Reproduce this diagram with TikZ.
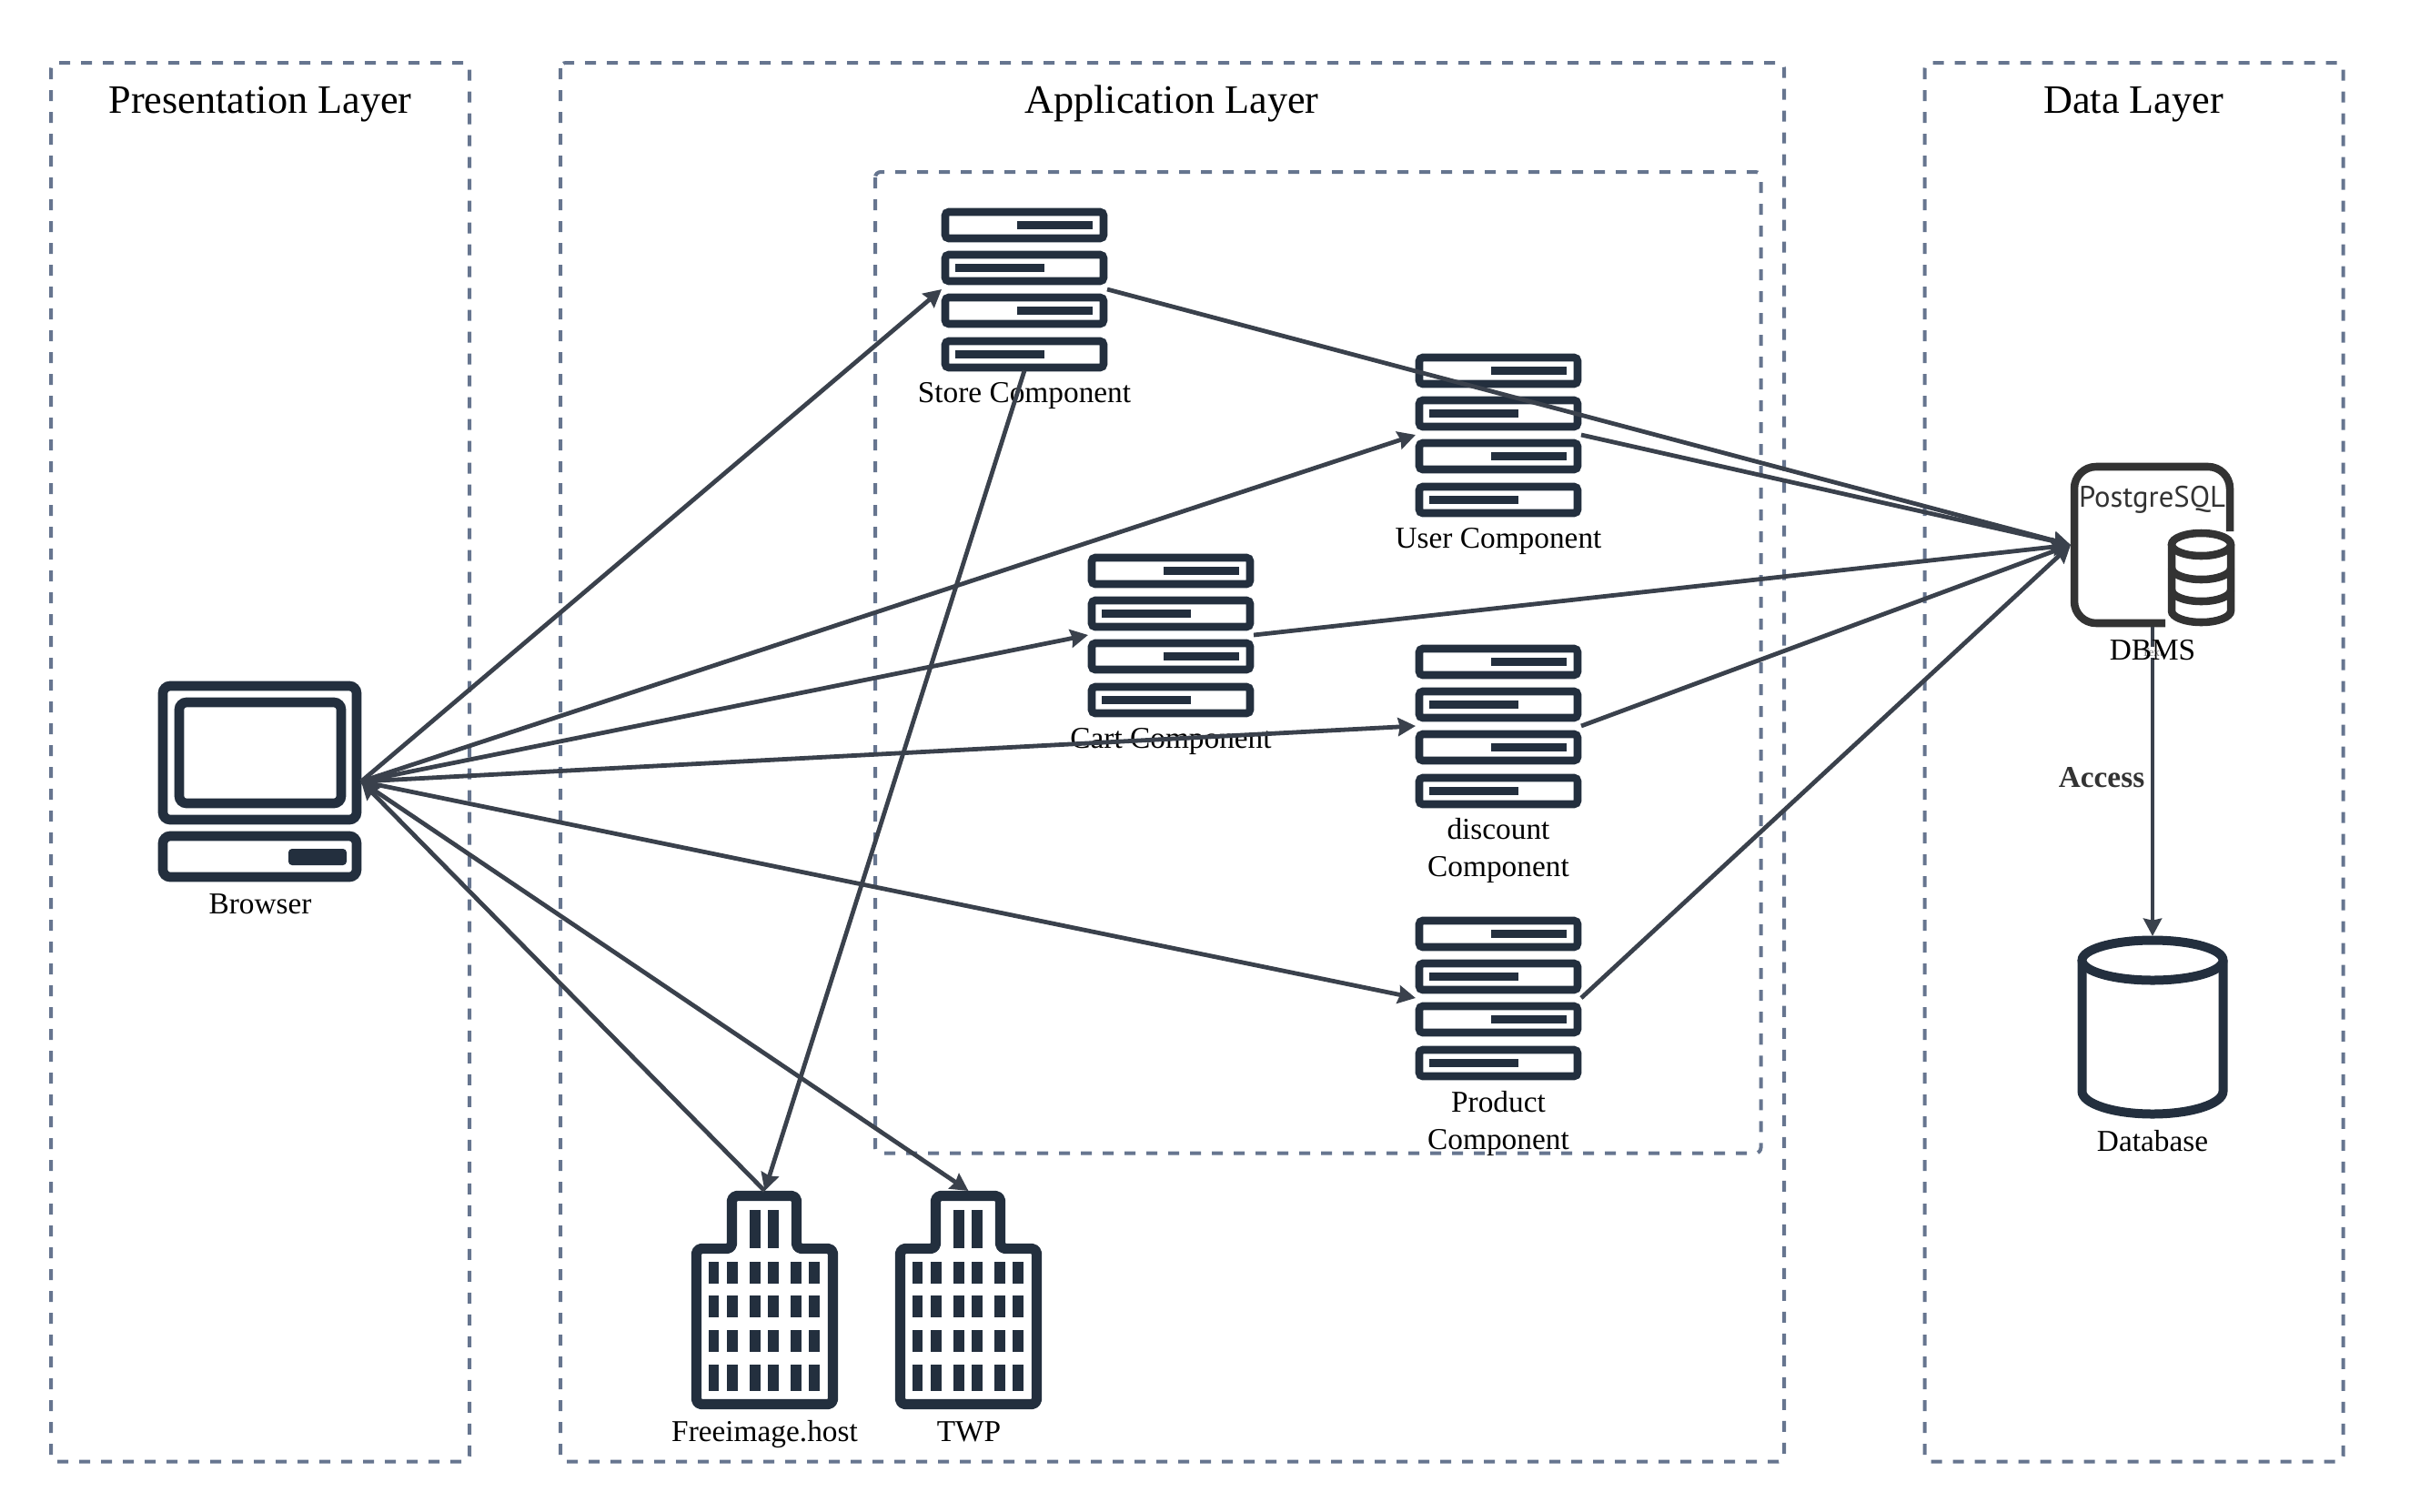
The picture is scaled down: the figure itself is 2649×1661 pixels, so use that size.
\documentclass[tikz,border=0pt]{standalone}
\usepackage{fontspec}
\setmainfont{Liberation Serif}
\newfontfamily\pgfont{PT Sans}
\usetikzlibrary{arrows.meta}
\definecolor{iconc}{HTML}{232F3E}
\definecolor{linec}{HTML}{3A414C}
\definecolor{dashc}{HTML}{66758F}
\definecolor{dbc}{HTML}{333333}
\tikzset{
  x=0.75pt,y=-0.75pt,
  layerbox/.style={draw=dashc,line width=3pt,dash pattern=on 9pt off 9pt,rounded corners=4.5pt},
  title/.style={font=\fontsize{33.2pt}{38pt}\selectfont,anchor=base,inner sep=0pt},
  label/.style={font=\fontsize{25pt}{30.75pt}\selectfont,anchor=base,inner sep=0pt,align=center,text=black},
  srv/.style={draw=iconc,line width=6.5pt,rounded corners=3pt},
  bar/.style={fill=iconc},
  conn/.style={draw=linec,line width=3.6pt,-{Stealth[length=14.5pt,width=15pt,inset=1.5pt]}},
  heavy/.style={draw=iconc,line width=8pt,rounded corners=6pt},
  tower/.style={draw=iconc,line width=8.5pt,rounded corners=4pt,line join=round},
  cyl/.style={draw=iconc,line width=7.5pt},
  pgdb/.style={draw=dbc,line width=6.4pt},
}
\newcommand{\servericon}[3]{%
  \node[inner sep=0pt,outer sep=0pt,minimum width=136.5pt,minimum height=134pt] (#3) at (#1+91,#2+89) {};
  \begin{scope}[shift={(#1,#2)}]
    \draw[srv] (4,4) rectangle (178,33);
    \draw[srv] (4,51) rectangle (178,80);
    \draw[srv] (4,98) rectangle (178,127);
    \draw[srv] (4,146) rectangle (178,175);
    \fill[bar] (83,14) rectangle (166,23);
    \fill[bar] (15,61) rectangle (113,70);
    \fill[bar] (83,108) rectangle (166,117);
    \fill[bar] (15,156) rectangle (113,165);
  \end{scope}}
\newcommand{\buildingicon}[3]{%
  \node[inner sep=0pt,outer sep=0pt,minimum width=120.75pt,minimum height=180pt] (#3) at (#1+80.5,#2+120) {};
  \begin{scope}[shift={(#1,#2)}]
    \draw[tower] (5.5,234.5) -- (5.5,63.5) -- (44.5,63.5) -- (44.5,5.5) -- (115.5,5.5) -- (115.5,63.5) -- (155.5,63.5) -- (155.5,234.5) -- cycle;
    \foreach \cx in {64.3,84.3} \fill[bar] (\cx,21) rectangle +(11.7,42.3);
    \foreach \cx in {18.7,39,64.3,84.3,109.3,129.3} {
      \fill[bar] (\cx,77.7) rectangle +(11.7,24);
      \fill[bar] (\cx,115.3) rectangle +(11.7,24);
      \fill[bar] (\cx,153.3) rectangle +(11.7,24);
      \fill[bar] (\cx,191.3) rectangle +(11.7,29);
    }
  \end{scope}}
\begin{document}
\begin{tikzpicture}
\useasboundingbox (0,0) rectangle (2649,1661);
% layer frames
\draw[layerbox] (56,69) rectangle (516,1606.5);
\draw[layerbox] (616,69) rectangle (1961,1606.5);
\draw[layerbox] (2115.5,69) rectangle (2575.5,1606.5);
\draw[layerbox] (962,189) rectangle (1935.5,1267.5);
\node[title] (t1) at (286,124.5) {Presentation Layer};
\node[title] (t2) at (1288,124.5) {Application Layer};
\node[title] (t3) at (2345,124.5) {Data Layer};
% browser
\node[inner sep=0pt,outer sep=0pt,minimum width=167.25pt,minimum height=165pt] (browser) at (285.5,859) {};
\draw[heavy] (179,754) rectangle (392,901);
\draw[heavy] (197,772) rectangle (375,883);
\draw[heavy] (179,919) rectangle (392,964);
\fill[iconc,rounded corners=3pt] (317,933) rectangle (381,951);
\node[label] (lbrowser) at (286,1004.5) {Browser};
% components
\servericon{1035}{229}{store}
\servericon{1556}{389}{user}
\servericon{1196}{609}{cart}
\servericon{1556}{709}{discount}
\servericon{1556}{1008}{product}
\node[label] (lstore) at (1126,442.5) {Store Component};
\node[label] (luser) at (1647,602.5) {User Component};
\node[label] (lcart) at (1287,822.5) {Cart Component};
\node[label] (ldiscount) at (1647,963) {discount\\Component};
\node[label] (lproduct) at (1647,1263) {Product\\Component};
% buildings
\buildingicon{760}{1309}{free}
\buildingicon{984}{1309}{twp}
\node[label] (lfree) at (840.5,1584.5) {Freeimage.host};
\node[label] (ltwp) at (1065,1584.5) {TWP};
% DBMS
\node[inner sep=0pt,outer sep=0pt,minimum width=135pt,minimum height=135pt] (dbms) at (2366,599) {};
\draw[pgdb,rounded corners=18pt] (2451,584) -- (2451,513) -- (2280,513) -- (2280,685) -- (2380,685);
\node[font=\pgfont\fontsize{24.5pt}{30pt}\selectfont,text=dbc,anchor=base,inner sep=0pt] (pg) at (2365.5,557) {PostgreSQL};
\draw[pgdb] (2387,598.5) -- (2387,671.5) arc[start angle=180,end angle=0,x radius=32.5,y radius=12.5] -- (2452,598.5);
\draw[pgdb] (2419.5,598.5) ellipse[x radius=32.5,y radius=12.5];
\draw[pgdb] (2387,624.5) arc[start angle=180,end angle=0,x radius=32.5,y radius=12.5];
\draw[pgdb] (2387,648.5) arc[start angle=180,end angle=0,x radius=32.5,y radius=12.5];
% database
\node[inner sep=0pt,outer sep=0pt,minimum width=123pt,minimum height=150pt] (database) at (2366,1129) {};
\draw[cyl] (2288.5,1055.5) -- (2288.5,1199.5) arc[start angle=180,end angle=0,x radius=77.5,y radius=25] -- (2443.5,1055.5);
\draw[cyl] (2366,1055.5) ellipse[x radius=77.5,y radius=22];
\node[label] (ldatabase) at (2366,1265) {Database};
% connectors
\draw[conn] (browser.east) -- (store.west);
\draw[conn] (browser.east) -- (user.west);
\draw[conn] (browser.east) -- (cart.west);
\draw[conn] (browser.east) -- (discount.west);
\draw[conn] (browser.east) -- (product.west);
\draw[conn] (free.north) -- (browser.east);
\draw[conn] (browser.east) -- (twp.north);
\draw[conn] (store.south) -- (free.north);
\draw[conn] (store.east) -- (dbms.west);
\draw[conn] (user.east) -- (dbms.west);
\draw[conn] (cart.east) -- (dbms.west);
\draw[conn] (discount.east) -- (dbms.west);
\draw[conn] (product.east) -- (dbms.west);
\draw[conn] (dbms.south) -- (database.north)
  node[pos=0.082,fill=white,inner sep=1pt,text=gray,font=\fontsize{10pt}{12pt}\selectfont] (ltext) {Text};
\node[font=\bfseries\fontsize{25pt}{30pt}\selectfont,anchor=base,inner sep=0pt,text=dbc] (laccess) at (2310,865) {Access};
\node[label] (ldbms) at (2366,725) {DBMS};
\end{tikzpicture}
\end{document}
